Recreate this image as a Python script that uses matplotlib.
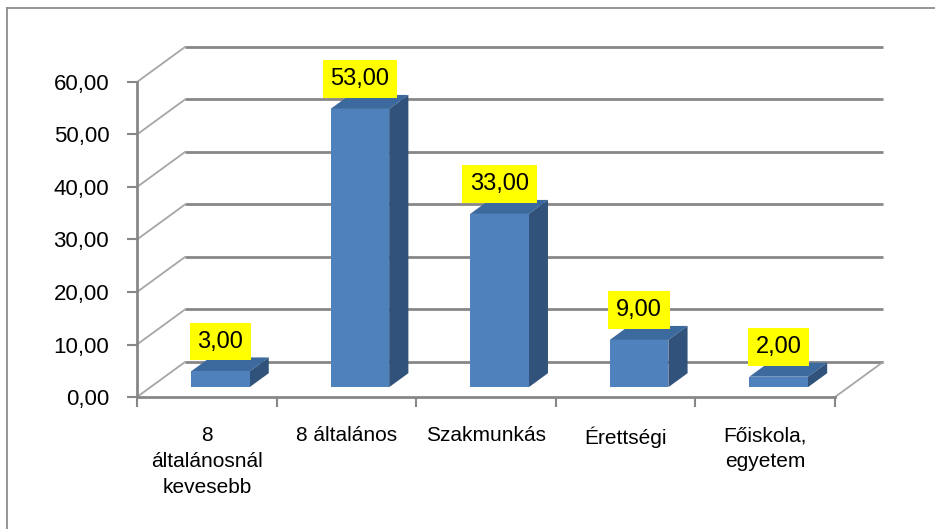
import matplotlib
matplotlib.use('Agg')
from matplotlib import pyplot as plt
from matplotlib.patches import Polygon, Rectangle
from matplotlib.lines import Line2D

'''
    Excel style 3D column chart (iskolai végzettség)
'''

categories = ['8\náltalánosnál\nkevesebb', '8 általános', 'Szakmunkás', 'Érettségi', 'Főiskola,\negyetem']
values = [3.0, 53.0, 33.0, 9.0, 2.0]
yticks = [0, 10, 20, 30, 40, 50, 60]

# depth of the 3D box (category units, value units)
DX = 0.344
DY = 6.67
BAR_W = 0.42
BAR_FRONT = 0.28   # where the bar front face sits in the depth
BAR_DEPTH = 0.40

GRID = '#878787'
FACE = '#4f81bd'
TOP = '#3d6a9e'
SIDE = '#30527b'

plt.rcParams['font.family'] = ['Liberation Sans', 'DejaVu Sans']

fig = plt.figure(figsize=(9.35, 5.29), dpi=100)
ax = fig.add_axes([137 / 935, 132 / 529, 698 / 935, 315 / 529])
ax.set_xlim(0, len(categories))
ax.set_ylim(0, 60)
ax.patch.set_visible(False)

# back wall gridlines + left wall diagonals
for v in yticks:
    ax.plot([DX, len(categories) + DX], [v + DY, v + DY], color=GRID, lw=2.0,
            clip_on=False, zorder=1, solid_capstyle='butt')
    ax.plot([0, DX], [v, v + DY], color='#a6a6a6', lw=1.3, clip_on=False, zorder=1)
# right floor edge
ax.plot([len(categories), len(categories) + DX], [0, DY], color='#a6a6a6', lw=1.3,
        clip_on=False, zorder=1)

# bars
for i, v in enumerate(values):
    x0 = i + 0.5 - BAR_W / 2 + BAR_FRONT * DX
    y0 = BAR_FRONT * DY
    bx = BAR_DEPTH * DX
    by = BAR_DEPTH * DY
    ax.add_patch(Polygon([(x0, y0 + v), (x0 + BAR_W, y0 + v), (x0 + BAR_W + bx, y0 + v + by),
                          (x0 + bx, y0 + v + by)], closed=True, fc=TOP, ec='none',
                         clip_on=False, zorder=3))
    ax.add_patch(Polygon([(x0 + BAR_W, y0), (x0 + BAR_W + bx, y0 + by), (x0 + BAR_W + bx, y0 + v + by),
                          (x0 + BAR_W, y0 + v)], closed=True, fc=SIDE, ec='none',
                         clip_on=False, zorder=3))
    ax.add_patch(Rectangle((x0, y0), BAR_W, v, fc=FACE, ec='none', clip_on=False, zorder=4))
    ax.text(x0 + BAR_W / 2, y0 + v + 5.7, f'{v:.2f}'.replace('.', ','), ha='center', va='center',
            fontsize=17, color='black', zorder=6,
            bbox=dict(boxstyle='square,pad=0.33', fc='#ffff00', ec='none'))

# axes styling
for s in ['top', 'right']:
    ax.spines[s].set_visible(False)
for s in ['left', 'bottom']:
    ax.spines[s].set_color(GRID)
    ax.spines[s].set_linewidth(2.0)
    ax.spines[s].set_zorder(2)

ax.set_yticks(yticks)
ax.set_yticklabels([f'{v:.2f}'.replace('.', ',') for v in yticks], fontsize=16)
ax.tick_params(axis='y', length=7, width=1.5, color=GRID, pad=13)

ax.set_xticks(range(len(categories) + 1))
ax.set_xticklabels([])
ax.tick_params(axis='x', which='major', length=7, width=1.5, color=GRID)
ax.set_xticks([i + 0.5 for i in range(len(categories))], minor=True)
ax.set_xticklabels(categories, minor=True, fontsize=15, linespacing=1.45, va='top')
ax.tick_params(axis='x', which='minor', length=0, pad=21)

# chart area border (cut off at right / bottom)
fig.add_artist(Line2D([7 / 935, 7 / 935], [0, 1 - 8 / 529], color='#8c8c8c', lw=1.3))
fig.add_artist(Line2D([7 / 935, 1], [1 - 8 / 529, 1 - 8 / 529], color='#8c8c8c', lw=1.3))

fig.savefig('out.png', dpi=100)
